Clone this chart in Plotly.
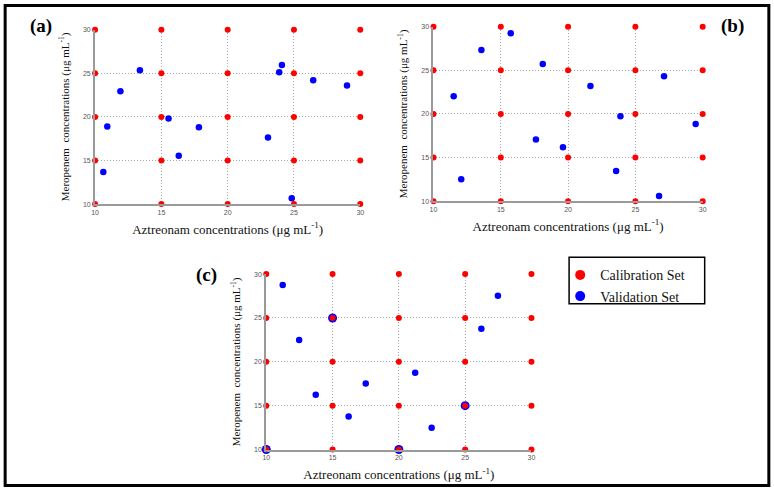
import plotly.graph_objects as go

# ---- data ----
grid_levels = [10, 15, 20, 25, 30]
tick_vals = [10, 15, 20, 25, 30]

val_a_x = [10.62, 10.92, 11.91, 13.38, 15.54, 16.31, 17.83, 23.04, 23.89, 24.09, 24.83, 26.45, 29.00]
val_a_y = [13.68, 18.91, 22.93, 25.34, 19.81, 15.53, 18.80, 17.63, 25.11, 25.94, 10.68, 24.21, 23.61]

val_b_x = [11.50, 12.06, 13.56, 15.74, 17.61, 18.12, 19.62, 21.66, 23.57, 23.89, 26.76, 27.13, 29.48]
val_b_y = [22.03, 12.52, 27.33, 29.25, 17.07, 25.71, 16.17, 23.20, 13.46, 19.74, 10.60, 24.32, 18.83]

val_c_x = [10.00, 11.24, 12.48, 13.73, 15.00, 16.21, 17.50, 20.00, 21.23, 22.47, 25.00, 26.22, 27.47]
val_c_y = [10.00, 28.76, 22.48, 16.24, 25.00, 13.76, 17.52, 10.00, 18.76, 12.48, 15.00, 23.76, 27.52]

panel_labels = ["(a)", "(b)", "(c)"]
legend_names = ["Calibration Set", "Validation Set"]
x_title = "Aztreonam concentrations (μg mL<sup>-1</sup>)"
y_title = "Meropenem  concentrations (μg mL<sup>-1</sup>)"

RED = "#FF0000"
BLUE = "#0000FF"
SERIF = "Liberation Serif, Times New Roman, serif"

cal_x = [gx for gx in grid_levels for gy in grid_levels]
cal_y = [gy for gx in grid_levels for gy in grid_levels]

fig = go.Figure()

panels = [
    ("x", "y", val_a_x, val_a_y),
    ("x2", "y2", val_b_x, val_b_y),
    ("x3", "y3", val_c_x, val_c_y),
]

for xa, ya, vx, vy in panels:
    sizes = [9 if (x in grid_levels and y in grid_levels) else 6.5 for x, y in zip(vx, vy)]
    fig.add_trace(go.Scatter(x=vx, y=vy, mode="markers", xaxis=xa, yaxis=ya,
                             marker=dict(color=BLUE, size=sizes, opacity=1, line=dict(width=0)),
                             cliponaxis=False, showlegend=False, hoverinfo="skip"))
    fig.add_trace(go.Scatter(x=cal_x, y=cal_y, mode="markers", xaxis=xa, yaxis=ya,
                             marker=dict(color=RED, size=6, opacity=1, line=dict(width=0)),
                             cliponaxis=False, showlegend=False, hoverinfo="skip"))

# legend-only traces
for name, col in zip(legend_names, [RED, BLUE]):
    fig.add_trace(go.Scatter(x=[None], y=[None], mode="markers", name=name,
                             marker=dict(color=col, size=10, opacity=1), xaxis="x3", yaxis="y3"))

domains = {
    "": ([0.1189, 0.4651], [0.5857, 0.9469]),
    "2": ([0.5607, 0.9121], [0.5918, 0.9531]),
    "3": ([0.3424, 0.6886], [0.0776, 0.4408]),
}

axis_common = dict(
    range=[10, 30], tickvals=tick_vals, showgrid=True, gridcolor="#a8a8a8",
    griddash="1px,2px", gridwidth=1, showline=True, linecolor="#9a9a9a", linewidth=2,
    zeroline=False, ticks="", tickfont=dict(family="Liberation Sans, Arial", size=7, color="#555555"),
    fixedrange=True,
)

layout = {}
for suf, (dx, dy) in domains.items():
    anchor_y = "y" + suf
    anchor_x = "x" + suf
    layout["xaxis" + suf] = dict(axis_common, domain=dx, anchor=anchor_y,
                                 title=dict(text=x_title, font=dict(family=SERIF, size=13, color="#111111"), standoff=10),
                                 ticklabelstandoff=0)
    layout["yaxis" + suf] = dict(axis_common, domain=dy, anchor=anchor_x,
                                 title=dict(text=y_title, font=dict(family=SERIF, size=11, color="#111111"), standoff=11),
                                 ticklabelstandoff=1)

fig.update_layout(**layout)

LEG_L, LEG_R, LEG_T, LEG_B = 571, 708, 257, 304

fig.update_layout(
    width=774, height=490,
    margin=dict(l=0, r=0, t=0, b=0),
    paper_bgcolor="white", plot_bgcolor="white",
    showlegend=True,
    legend=dict(x=(LEG_L - 9) / 774, y=1 - (LEG_T + 2) / 490, xanchor="left", yanchor="top",
                borderwidth=0, bgcolor="rgba(0,0,0,0)",
                font=dict(family=SERIF, size=14, color="#111111"),
                itemsizing="trace", tracegroupgap=0, itemwidth=30),
    shapes=[
        dict(type="rect", xref="paper", yref="paper", x0=0.0015, x1=0.9985, y0=0.003, y1=0.997,
             line=dict(color="black", width=3)),
        dict(type="rect", xref="paper", yref="paper", x0=LEG_L / 774, x1=LEG_R / 774,
             y0=1 - LEG_B / 490, y1=1 - LEG_T / 490, line=dict(color="black", width=1.5),
             fillcolor="white", layer="below"),
    ],
    annotations=[
        dict(text="<b>" + panel_labels[0] + "</b>", x=37 / 774, y=1 - 22 / 490, xref="paper", yref="paper",
             xanchor="center", yanchor="middle",
             showarrow=False, font=dict(family=SERIF, size=19, color="black")),
        dict(text="<b>" + panel_labels[1] + "</b>", x=736 / 774, y=1 - 22 / 490, xref="paper", yref="paper",
             xanchor="center", yanchor="middle",
             showarrow=False, font=dict(family=SERIF, size=19, color="black")),
        dict(text="<b>" + panel_labels[2] + "</b>", x=205 / 774, y=1 - 275 / 490, xref="paper", yref="paper",
             xanchor="center", yanchor="middle",
             showarrow=False, font=dict(family=SERIF, size=19, color="black")),
    ],
)

fig.write_html("out.html")
